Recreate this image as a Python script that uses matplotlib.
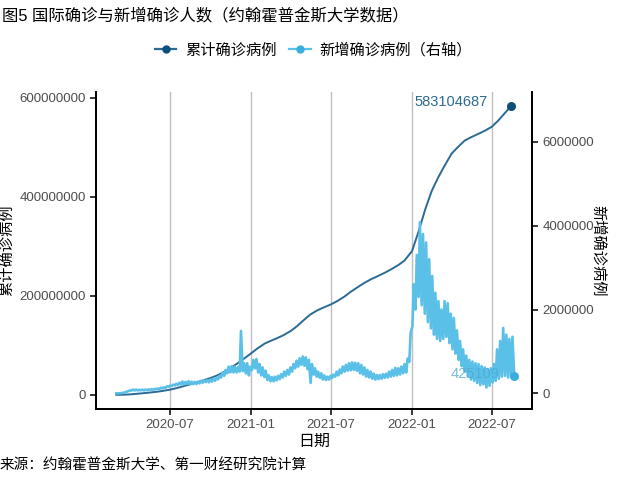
import pandas as pd
import matplotlib
matplotlib.use("Agg")
from matplotlib import pyplot as plt
from matplotlib.lines import Line2D
import matplotlib.dates as mdates

plt.rcParams['font.family'] = ['Liberation Sans', 'Noto Sans CJK SC', 'DejaVu Sans']

# 累计确诊（百万）
cum_dates = ['2020-03-01', '2020-03-15', '2020-04-01', '2020-04-15', '2020-05-01', '2020-05-15',
             '2020-06-01', '2020-06-15', '2020-07-01', '2020-07-15', '2020-08-01', '2020-08-15',
             '2020-09-01', '2020-09-15', '2020-10-01', '2020-10-15', '2020-11-01', '2020-11-15',
             '2020-12-01', '2020-12-15', '2021-01-01', '2021-01-15', '2021-02-01', '2021-02-15',
             '2021-03-01', '2021-03-15', '2021-04-01', '2021-04-15', '2021-05-01', '2021-05-15',
             '2021-06-01', '2021-06-15', '2021-07-01', '2021-07-15', '2021-08-01', '2021-08-15',
             '2021-09-01', '2021-09-15', '2021-10-01', '2021-10-15', '2021-11-01', '2021-11-15',
             '2021-12-01', '2021-12-15', '2022-01-01', '2022-01-15', '2022-02-01', '2022-02-15',
             '2022-03-01', '2022-03-15', '2022-04-01', '2022-04-15', '2022-05-01', '2022-05-15',
             '2022-06-01', '2022-06-15', '2022-07-01', '2022-07-15', '2022-08-01', '2022-08-14']
cum_values = [0.09, 0.17, 0.93, 2.0, 3.3, 4.5,
              6.2, 8.0, 10.5, 13.4, 17.6, 21.3,
              25.5, 29.4, 34.0, 38.8, 46.3, 54.0,
              63.5, 72.5, 83.8, 93.5, 103.6, 109.2,
              114.5, 120.2, 129.0, 138.5, 151.3, 162.0,
              171.0, 176.5, 182.5, 189.0, 198.5, 208.0,
              218.0, 226.0, 233.8, 239.5, 246.8, 253.5,
              262.0, 271.0, 290.0, 327.0, 377.0, 412.0,
              438.0, 461.0, 487.0, 500.0, 513.5, 520.0,
              527.0, 533.0, 541.0, 553.0, 570.0, 583.104687]

# 新增确诊（千）：每周周日低点、周三高点
weekly_low = [2, 4, 10, 30, 58,
              70, 72, 72, 74,
              72, 76, 82, 88, 100,
              105, 120, 132, 160,
              175, 190, 205, 215,
              215, 225, 215, 220, 225,
              240, 255, 270, 265,
              280, 300, 335, 380,
              420, 480, 500, 500, 500,
              520, 530, 480, 430,
              560, 600, 500, 430, 390,
              320, 290, 290, 310,
              340, 380, 420, 450,
              520, 600, 640, 680,
              660, 580, 250, 450, 400,
              370, 330, 320, 330,
              370, 400, 430, 480,
              520, 540, 550, 560, 540,
              480, 450, 400, 380,
              350, 330, 340, 350, 370,
              380, 400, 420, 430,
              450, 480, 500, 750,
              1600, 2000, 2300, 2100, 1900,
              1700, 1550, 1400, 1300,
              1250, 1300, 1350, 1200,
              1050, 950, 800, 650,
              520, 400, 330, 300, 250, 200,
              220, 140, 180, 260,
              300, 350, 400, 420, 380,
              400, 425.109]
weekly_high = [3, 6, 18, 42, 70,
               90, 92, 88, 90,
               92, 95, 100, 108, 118,
               135, 145, 170, 185,
               210, 230, 255, 285,
               275, 290, 280, 275, 280,
               300, 310, 315, 330,
               350, 370, 420, 500,
               560, 640, 650, 640, 620,
               1490, 720, 720, 640,
               800, 820, 700, 620, 540,
               430, 390, 400, 420,
               460, 520, 560, 620,
               700, 780, 840, 880,
               860, 800, 700, 600, 520,
               480, 430, 400, 420,
               450, 520, 570, 640,
               680, 720, 740, 730, 720,
               680, 620, 560, 520,
               470, 440, 440, 460, 470,
               520, 560, 610, 600,
               640, 700, 830, 1450,
               2600, 3300, 4080, 3800, 3600,
               3200, 2800, 2400, 2200,
               2000, 2200, 2150, 1900,
               1800, 1500, 1250, 1050,
               900, 800, 760, 720, 700, 650,
               620, 580, 600, 700,
               1050, 1250, 1560, 1400, 1300,
               1350]

start = pd.Timestamp('2020-03-01')
new_dates = []
new_values = []
for i, lo in enumerate(weekly_low):
    new_dates.append(start + pd.Timedelta(days=7 * i))
    new_values.append(lo * 1000)
    if i < len(weekly_high):
        new_dates.append(start + pd.Timedelta(days=7 * i + 3))
        new_values.append(weekly_high[i] * 1000)

cum_dates = pd.to_datetime(cum_dates)
cum_values = [v * 1e6 for v in cum_values]

dark = '#2b6a94'
dark_pt = '#0d4f7c'
light = '#5bc0e8'
light_pt = '#3aaee0'

fig = plt.figure(figsize=(6.4, 4.8), dpi=100)
ax = fig.add_axes([0.15, 0.148, 0.681, 0.66])
ax2 = ax.twinx()

ax.plot(cum_dates, cum_values, color=dark, lw=1.4, zorder=3)
ax.scatter([cum_dates[-1]], [cum_values[-1]], color=dark_pt, s=30, zorder=4)
ax2.plot(new_dates, new_values, color=light, lw=1.9, zorder=3)
ax2.scatter([new_dates[-1]], [new_values[-1]], color=light_pt, s=30, zorder=4)

ax.annotate(str(int(round(cum_values[-1]))), (cum_dates[-1], cum_values[-1]),
            xytext=(-23, 4), textcoords='offset pixels', ha='right', va='center',
            color=dark, fontsize=10.5)
ax2.annotate(str(int(round(new_values[-1]))), (new_dates[-1], new_values[-1]),
             xytext=(-15, 2), textcoords='offset pixels', ha='right', va='center',
             color='#4aa6d4', fontsize=10.5, alpha=0.75, zorder=5)

ax.set_xlim(pd.Timestamp('2020-01-15'), pd.Timestamp('2022-09-30'))
ax.set_ylim(-28.5e6, 611e6)
ax2.set_ylim(-0.37e6, 7.18e6)

xt = pd.to_datetime(['2020-07-01', '2021-01-01', '2021-07-01', '2022-01-01', '2022-07-01'])
ax.set_xticks(xt)
ax.xaxis.set_major_formatter(mdates.DateFormatter('%Y-%m'))
ax.set_yticks([0, 200000000, 400000000, 600000000])
ax.set_yticklabels(['0', '200000000', '400000000', '600000000'])
ax2.set_yticks([0, 2000000, 4000000, 6000000])
ax2.set_yticklabels(['0', '2000000', '4000000', '6000000'])
ax.grid(axis='x', color='#bebebe', lw=1)
ax.set_axisbelow(True)

for a in (ax, ax2):
    a.spines['top'].set_visible(False)
    for s in ('left', 'right', 'bottom'):
        a.spines[s].set_linewidth(1.3)
        a.spines[s].set_color('black')
    a.tick_params(length=4, width=1.1, color='black', labelcolor='#4d4d4d', labelsize=9.5)
    a.set_facecolor('none')

ax.set_xlabel('日期', fontsize=11.5, labelpad=2)
ax.set_ylabel('累计确诊病例', fontsize=11, labelpad=4)
ax2.set_ylabel('新增确诊病例', fontsize=11, rotation=-90, labelpad=8)

handles = [Line2D([], [], color=dark, lw=1.6, marker='o', ms=5, mfc=dark_pt, mec=dark_pt),
           Line2D([], [], color=light, lw=1.6, marker='o', ms=5, mfc=light_pt, mec=light_pt)]
fig.legend(handles, ['累计确诊病例', '新增确诊病例（右轴）'], loc='center',
           bbox_to_anchor=(0.49, 1 - 50 / 480), ncol=2, frameon=False, fontsize=11,
           handlelength=1.4, handletextpad=0.6, columnspacing=0.8)

fig.text(0.003, 1 - 15 / 480, '图5 国际确诊与新增确诊人数（约翰霍普金斯大学数据）',
         ha='left', va='center', fontsize=11.8)
fig.text(0.0, 1 - 466 / 480, '来源：约翰霍普金斯大学、第一财经研究院计算',
         ha='left', va='center', fontsize=10.5)

fig.savefig('out.png', dpi=100)
